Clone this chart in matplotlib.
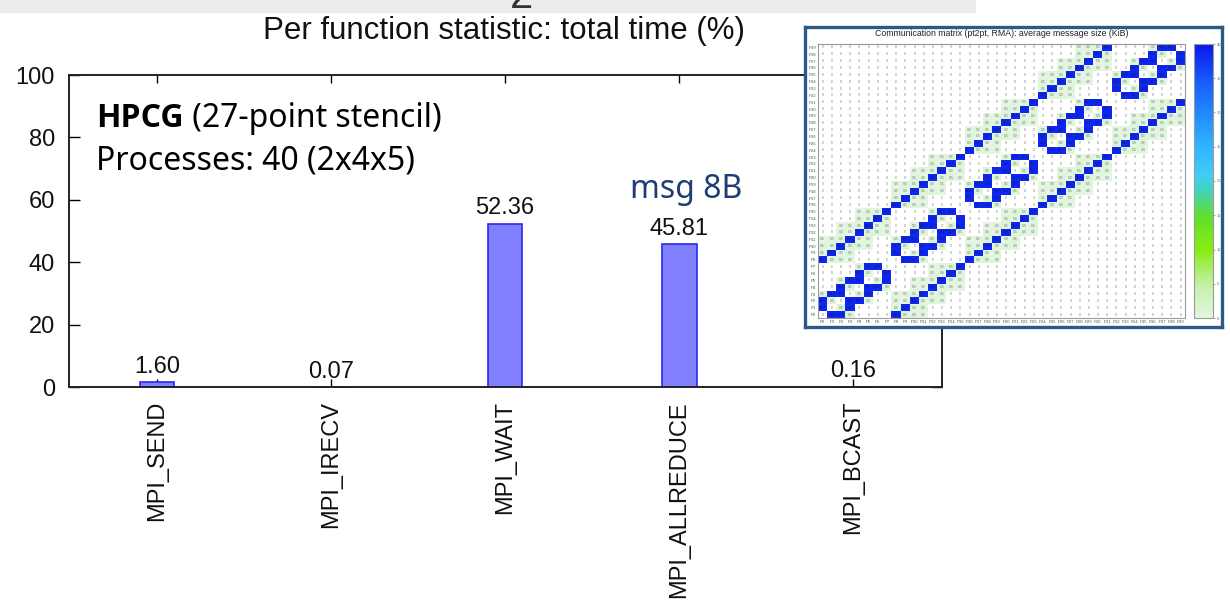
import numpy as np
import matplotlib
matplotlib.use("Agg")
import matplotlib.pyplot as plt
from matplotlib.colors import LinearSegmentedColormap
from matplotlib.patches import Rectangle
from matplotlib import font_manager

plt.rcParams['font.family'] = ['Liberation Sans', 'DejaVu Sans']

#Tiempo total por funcion MPI (%)
funciones = ["MPI_SEND", "MPI_IRECV", "MPI_WAIT", "MPI_ALLREDUCE", "MPI_BCAST"]
tiempo_pct = [1.60, 0.07, 52.36, 45.81, 0.16]
yticks = [0, 20, 40, 60, 80, 100]

#Matriz de comunicacion, fila P0 primero (F = cara, e = arista, c = esquina, . = nada)
matriz_filas = [
    ".FFe.... Feec.... ........ ........ ........",
    "F.eF.... eFce.... ........ ........ ........",
    "Fe.FFe.. ecFeec.. ........ ........ ........",
    "eFF.eF.. ceeFce.. ........ ........ ........",
    "..Fe.FFe ..ecFeec ........ ........ ........",
    "..eFF.eF ..ceeFce ........ ........ ........",
    "....Fe.F ....ecFe ........ ........ ........",
    "....eFF. ....ceeF ........ ........ ........",
    "Feec.... .FFe.... Feec.... ........ ........",
    "eFce.... F.eF.... eFce.... ........ ........",
    "ecFeec.. Fe.FFe.. ecFeec.. ........ ........",
    "ceeFce.. eFF.eF.. ceeFce.. ........ ........",
    "..ecFeec ..Fe.FFe ..ecFeec ........ ........",
    "..ceeFce ..eFF.eF ..ceeFce ........ ........",
    "....ecFe ....Fe.F ....ecFe ........ ........",
    "....ceeF ....eFF. ....ceeF ........ ........",
    "........ Feec.... .FFe.... Feec.... ........",
    "........ eFce.... F.eF.... eFce.... ........",
    "........ ecFeec.. Fe.FFe.. ecFeec.. ........",
    "........ ceeFce.. eFF.eF.. ceeFce.. ........",
    "........ ..ecFeec ..Fe.FFe ..ecFeec ........",
    "........ ..ceeFce ..eFF.eF ..ceeFce ........",
    "........ ....ecFe ....Fe.F ....ecFe ........",
    "........ ....ceeF ....eFF. ....ceeF ........",
    "........ ........ Feec.... .FFe.... Feec....",
    "........ ........ eFce.... F.eF.... eFce....",
    "........ ........ ecFeec.. Fe.FFe.. ecFeec..",
    "........ ........ ceeFce.. eFF.eF.. ceeFce..",
    "........ ........ ..ecFeec ..Fe.FFe ..ecFeec",
    "........ ........ ..ceeFce ..eFF.eF ..ceeFce",
    "........ ........ ....ecFe ....Fe.F ....ecFe",
    "........ ........ ....ceeF ....eFF. ....ceeF",
    "........ ........ ........ Feec.... .FFe....",
    "........ ........ ........ eFce.... F.eF....",
    "........ ........ ........ ecFeec.. Fe.FFe..",
    "........ ........ ........ ceeFce.. eFF.eF..",
    "........ ........ ........ ..ecFeec ..Fe.FFe",
    "........ ........ ........ ..ceeFce ..eFF.eF",
    "........ ........ ........ ....ecFe ....Fe.F",
    "........ ........ ........ ....ceeF ....eFF.",
]
valor_codigo = {"F": 38.7, "e": 0.5, "c": 0.0078, ".": 0.0}
texto_codigo = {"F": "38.7", "e": "0.5", "c": "0.0", ".": "0"}
procesos = ["P%d" % i for i in range(40)]
cbar_ticks = [0, 5, 10, 15, 20, 25, 30, 35, 40]

#Fuente negrita para el nombre del benchmark (la que este instalada)
familias = {f.name for f in font_manager.fontManager.ttflist if f.weight in (700, "bold")}
negrita = next((n for n in ["Noto Sans", "Open Sans", "Lato", "Roboto", "Liberation Sans"]
                if n in familias), "DejaVu Sans")

W, H = 1230, 605
fig = plt.figure(figsize=(W / 100, H / 100), dpi=100)

#Banda gris superior
fig.add_artist(Rectangle((0, 1 - 12 / H), 975 / W, 12 / H, transform=fig.transFigure,
                         color="#ececec", zorder=0))
fig.text(521 / W, 1 - 8 / H, "2", fontsize=30, ha="center", va="baseline", color="#333333")

#Grafico de barras principal
ax = fig.add_axes([69 / W, 1 - 387 / H, (942 - 69) / W, (387 - 75) / H])
x = np.arange(len(funciones))
ax.bar(x, tiempo_pct, width=0.2, color="#8080ff", edgecolor="#2a2aee", linewidth=1.2, zorder=2)
for xi, v in zip(x, tiempo_pct):
    ax.annotate("%.2f" % v, (xi, v), xytext=(0, 3), textcoords="offset points",
                ha="center", va="bottom", fontsize=17, color="#111111")

ax.set_xlim(-0.505, 4.51)
ax.set_ylim(0, 100)
ax.set_yticks(yticks)
ax.set_xticks(x)
ax.set_xticklabels(funciones, rotation=90, fontsize=17, color="#111111")
ax.tick_params(axis="y", direction="in", length=8, width=1, labelsize=17, pad=10,
               right=True, labelcolor="#111111")
ax.tick_params(axis="x", direction="in", length=6, width=1, pad=10, top=True)
for s in ax.spines.values():
    s.set_linewidth(1.4)
    s.set_color("#222222")

fig.text(504 / W, 1 - 31 / H, "Per function statistic: total time (%)", fontsize=22.5,
         ha="center", va="center", color="#111111")

#Anotaciones
t1 = fig.text(96 / W, 1 - 127 / H, "HPCG", family=negrita, fontweight="bold",
              fontsize=23, va="baseline", color="black")
ax.annotate(" (27-point stencil)", xy=(1, 0), xycoords=t1, ha="left", va="bottom",
            family="Noto Sans", fontsize=23, color="black", annotation_clip=False)
fig.text(96 / W, 1 - 170 / H, "Processes: 40 (2x4x5)", family="Noto Sans",
         fontsize=23, va="baseline", color="black")
fig.text(630 / W, 1 - 198 / H, "msg 8B", family="Noto Sans", fontsize=23,
         va="baseline", color="#1f3d73")

#Recuadro con la matriz de comunicacion
marco = fig.add_axes([805 / W, 1 - 327 / H, 417 / W, 300 / H], zorder=5)
marco.set_xticks([])
marco.set_yticks([])
marco.set_facecolor("white")
for s in marco.spines.values():
    s.set_linewidth(2.4)
    s.set_color("#2b5a86")
fig.text(1002 / W, 1 - 34 / H,
         "Communication matrix (pt2pt, RMA): average message size (KiB)",
         fontsize=6.3, ha="center", va="center", color="#222222", zorder=7)

codigos = [fila.replace(" ", "") for fila in matriz_filas]
valores = np.array([[valor_codigo[c] for c in fila] for fila in codigos])

cmap = LinearSegmentedColormap.from_list("msg", [
    (0.0, "#e2f6e2"), (0.12, "#c4f0a4"), (0.25, "#86ec12"), (0.37, "#62de2c"),
    (0.46, "#44d4b4"), (0.52, "#42cdf6"), (0.62, "#30b6ff"), (0.75, "#2288ff"),
    (0.88, "#1656fb"), (1.0, "#0a16ee")])
cmap.set_bad("white")

axm = fig.add_axes([818 / W, 1 - 318 / H, 367 / W, 274 / H], zorder=6)
im = axm.imshow(np.ma.masked_equal(valores, 0.0), cmap=cmap, vmin=0, vmax=40,
                origin="lower", aspect="auto", interpolation="nearest")
for i, fila in enumerate(codigos):
    for j, c in enumerate(fila):
        axm.text(j, i, texto_codigo[c], fontsize=2.4, ha="center", va="center",
                 color="#1a1a40" if c == "F" else "#7a7a7a")
axm.set_xticks(range(40))
axm.set_yticks(range(40))
axm.set_xticklabels(procesos, fontsize=3.1, color="#555555")
axm.set_yticklabels(procesos, fontsize=3.1, color="#555555")
axm.tick_params(length=0, pad=1.5)
for s in axm.spines.values():
    s.set_linewidth(0.8)
    s.set_color("#9a9a9a")

cax = fig.add_axes([1194 / W, 1 - 318 / H, 19 / W, 274 / H], zorder=6)
cb = fig.colorbar(im, cax=cax, ticks=cbar_ticks)
cb.ax.tick_params(labelsize=3, length=1.5, width=0.4, colors="#666666", pad=1)
cb.outline.set_edgecolor("#9a9a9a")
cb.outline.set_linewidth(0.8)

fig.savefig("out.png", dpi=100)
